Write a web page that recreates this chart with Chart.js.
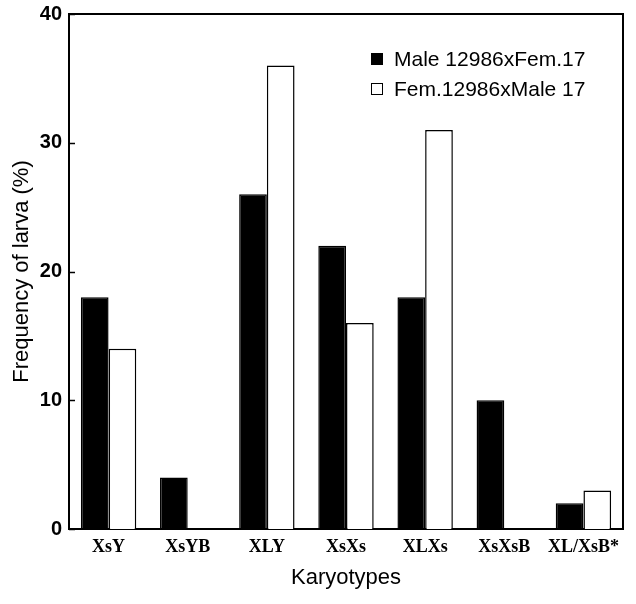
<!DOCTYPE html>
<html>
<head>
<meta charset="utf-8">
<script src="https://cdn.jsdelivr.net/npm/chart.js@4/dist/chart.umd.min.js"></script>
<style>
  html, body { margin: 0; padding: 0; background: #fff; }
  #wrap { width: 636px; height: 604px; }
</style>
</head>
<body>
<div id="wrap"><canvas id="grafico" width="636" height="604"></canvas></div>
<script>
// data
const karyotypes = ['XsY', 'XsYB', 'XLY', 'XsXs', 'XLXs', 'XsXsB', 'XL/XsB*']
const maleCross = [18, 4, 26, 22, 18, 10, 2]
const femCross = [14, 0, 36, 16, 31, 0, 3]
const yTicks = [0, 10, 20, 30, 40]
const seriesNames = ['Male 12986xFem.17', 'Fem.12986xMale 17']

// frame on top / right, inward y ticks, and the legend inside the plot
const moldura = {
  id: 'moldura',
  afterDraw(chart) {
    const { ctx, chartArea } = chart
    const y = chart.scales.y
    ctx.save()
    ctx.strokeStyle = '#000'
    ctx.lineWidth = 2
    ctx.beginPath()
    ctx.moveTo(chartArea.left - 1, chartArea.top)
    ctx.lineTo(chartArea.right, chartArea.top)
    ctx.lineTo(chartArea.right, chartArea.bottom + 1)
    ctx.stroke()

    ctx.lineWidth = 1.5
    yTicks.forEach(v => {
      const py = Math.round(y.getPixelForValue(v)) + 0.5
      ctx.beginPath()
      ctx.moveTo(chartArea.left, py)
      ctx.lineTo(chartArea.left + 6, py)
      ctx.stroke()
    })

    ctx.font = '21px "Liberation Sans", Arial, sans-serif'
    ctx.textBaseline = 'middle'
    chart.data.datasets.forEach((ds, i) => {
      const ly = 59 + i * 30
      ctx.fillStyle = ds.backgroundColor
      ctx.fillRect(371, ly - 6, 12, 12)
      ctx.lineWidth = 1
      ctx.strokeRect(371.5, ly - 5.5, 11, 11)
      ctx.fillStyle = '#000'
      ctx.fillText(ds.label, 394, ly + 1)
    })
    ctx.restore()
  }
}

const ctx = document.getElementById('grafico').getContext('2d')
window.grafico = new Chart(ctx, {
  type: 'bar',
  data: {
    labels: karyotypes,
    datasets: [{
      label: seriesNames[0],
      data: maleCross,
      backgroundColor: '#000',
      borderColor: '#000',
      borderWidth: 1.5
    }, {
      label: seriesNames[1],
      data: femCross,
      backgroundColor: '#fff',
      borderColor: '#000',
      borderWidth: 1.5
    }]
  },
  options: {
    responsive: false,
    animation: false,
    layout: { padding: { top: 14, right: 13, left: 0, bottom: 0 } },
    plugins: {
      legend: { display: false },
      tooltip: { enabled: false }
    },
    datasets: {
      bar: { categoryPercentage: 0.7, barPercentage: 1.0 }
    },
    scales: {
      x: {
        grid: { display: false, drawTicks: false },
        border: { color: '#000', width: 2 },
        ticks: {
          color: '#000',
          padding: 8,
          font: { family: '"Liberation Serif", "Times New Roman", serif', size: 18, weight: 'bold' }
        },
        title: {
          display: true,
          text: 'Karyotypes',
          color: '#000',
          padding: { top: 0, bottom: 13 },
          font: { family: '"Liberation Sans", Arial, sans-serif', size: 22 }
        },
        afterFit(scale) {
          scale.height = 75
          scale.paddingLeft = 0
          scale.paddingRight = 0
        }
      },
      y: {
        min: 0,
        max: 40,
        afterBuildTicks(scale) { scale.ticks = yTicks.map(v => ({ value: v })) },
        grid: { display: false, drawTicks: false },
        border: { color: '#000', width: 2 },
        ticks: {
          color: '#000',
          padding: 7,
          font: { family: '"Liberation Sans", Arial, sans-serif', size: 20, weight: 'bold' }
        },
        title: {
          display: true,
          text: 'Frequency of larva (%)',
          color: '#000',
          padding: { top: 9, bottom: 0 },
          font: { family: '"Liberation Sans", Arial, sans-serif', size: 22 }
        },
        afterFit(scale) {
          scale.width = 69
          scale.paddingTop = 0
          scale.paddingBottom = 0
        }
      }
    }
  },
  plugins: [moldura]
})
</script>
</body>
</html>
